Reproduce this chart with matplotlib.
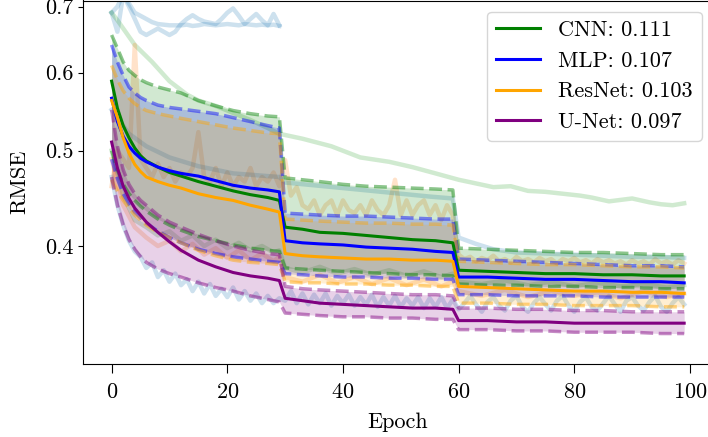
import matplotlib
matplotlib.use('Agg')
import matplotlib.pyplot as plt
from matplotlib.ticker import NullLocator

plt.rcParams['font.family'] = 'serif'
plt.rcParams['font.serif'] = ['cmr10']
plt.rcParams['mathtext.fontset'] = 'cm'
plt.rcParams['axes.formatter.use_mathtext'] = True
plt.rcParams['axes.unicode_minus'] = False
plt.rcParams['font.size'] = 16

grid = [0, 1, 2, 3, 4, 5, 6, 8, 10, 12, 15, 18, 21, 24, 27, 29,
        30, 33, 36, 40, 44, 48, 52, 56, 59,
        60, 65, 70, 75, 80, 85, 90, 95, 99]

models = ['CNN', 'MLP', 'ResNet', 'U-Net']
scores = ['0.111', '0.107', '0.103', '0.097']
colors = ['green', 'blue', 'orange', 'purple']

cnn_med = [0.588, 0.552, 0.530, 0.515, 0.503, 0.494, 0.488, 0.481, 0.475, 0.471, 0.465, 0.460, 0.455, 0.451, 0.448, 0.445,
           0.418, 0.416, 0.413, 0.412, 0.410, 0.408, 0.406, 0.405, 0.403,
           0.378, 0.377, 0.376, 0.375, 0.375, 0.374, 0.374, 0.373, 0.373]
cnn_hi = [0.655, 0.635, 0.615, 0.603, 0.596, 0.590, 0.586, 0.580, 0.576, 0.572, 0.562, 0.555, 0.549, 0.545, 0.542, 0.541,
          0.469, 0.467, 0.465, 0.462, 0.460, 0.459, 0.458, 0.457, 0.456,
          0.398, 0.397, 0.396, 0.395, 0.394, 0.394, 0.393, 0.392, 0.392]
cnn_lo = [0.500, 0.478, 0.462, 0.452, 0.445, 0.439, 0.434, 0.426, 0.420, 0.415, 0.409, 0.405, 0.401, 0.398, 0.396, 0.395,
          0.380, 0.379, 0.378, 0.377, 0.376, 0.375, 0.374, 0.374, 0.373,
          0.366, 0.365, 0.365, 0.364, 0.364, 0.363, 0.363, 0.362, 0.362]

mlp_med = [0.565, 0.535, 0.517, 0.505, 0.497, 0.491, 0.487, 0.481, 0.477, 0.474, 0.471, 0.466, 0.461, 0.458, 0.456, 0.454,
           0.405, 0.403, 0.402, 0.401, 0.399, 0.398, 0.397, 0.395, 0.394,
           0.372, 0.372, 0.371, 0.370, 0.370, 0.369, 0.368, 0.368, 0.367]
mlp_hi = [0.640, 0.615, 0.596, 0.580, 0.572, 0.566, 0.562, 0.556, 0.553, 0.551, 0.548, 0.545, 0.540, 0.535, 0.530, 0.527,
          0.432, 0.431, 0.430, 0.429, 0.429, 0.428, 0.427, 0.426, 0.426,
          0.388, 0.387, 0.386, 0.385, 0.384, 0.383, 0.382, 0.382, 0.381]
mlp_lo = [0.490, 0.468, 0.452, 0.441, 0.433, 0.427, 0.422, 0.414, 0.408, 0.403, 0.397, 0.393, 0.390, 0.388, 0.386, 0.385,
          0.375, 0.374, 0.373, 0.372, 0.372, 0.371, 0.371, 0.370, 0.370,
          0.357, 0.357, 0.356, 0.356, 0.356, 0.355, 0.355, 0.355, 0.355]

res_med = [0.562, 0.540, 0.515, 0.497, 0.484, 0.476, 0.470, 0.465, 0.461, 0.458, 0.452, 0.448, 0.445, 0.440, 0.436, 0.433,
           0.393, 0.391, 0.390, 0.389, 0.388, 0.388, 0.387, 0.387, 0.386,
           0.364, 0.363, 0.362, 0.361, 0.360, 0.360, 0.359, 0.359, 0.358]
res_hi = [0.610, 0.590, 0.575, 0.565, 0.558, 0.553, 0.549, 0.545, 0.542, 0.539, 0.535, 0.531, 0.527, 0.524, 0.521, 0.520,
          0.426, 0.425, 0.424, 0.423, 0.422, 0.422, 0.421, 0.421, 0.420,
          0.386, 0.385, 0.384, 0.383, 0.383, 0.382, 0.381, 0.381, 0.380]
res_lo = [0.467, 0.455, 0.445, 0.437, 0.430, 0.425, 0.420, 0.413, 0.408, 0.403, 0.396, 0.391, 0.387, 0.385, 0.384, 0.383,
          0.368, 0.367, 0.367, 0.366, 0.366, 0.365, 0.365, 0.364, 0.364,
          0.350, 0.350, 0.349, 0.349, 0.348, 0.348, 0.348, 0.347, 0.347]

unet_med = [0.510, 0.480, 0.460, 0.447, 0.437, 0.430, 0.423, 0.413, 0.404, 0.396, 0.387, 0.381, 0.376, 0.373, 0.371, 0.369,
            0.354, 0.352, 0.350, 0.349, 0.348, 0.347, 0.346, 0.346, 0.345,
            0.336, 0.336, 0.335, 0.335, 0.334, 0.334, 0.334, 0.334, 0.334]
unet_hi = [0.550, 0.505, 0.478, 0.462, 0.452, 0.445, 0.440, 0.430, 0.423, 0.418, 0.411, 0.405, 0.400, 0.396, 0.393, 0.392,
           0.364, 0.362, 0.361, 0.360, 0.359, 0.358, 0.357, 0.357, 0.356,
           0.346, 0.346, 0.345, 0.345, 0.344, 0.344, 0.343, 0.343, 0.343]
unet_lo = [0.470, 0.440, 0.420, 0.406, 0.397, 0.390, 0.385, 0.379, 0.375, 0.372, 0.367, 0.363, 0.360, 0.356, 0.353, 0.351,
           0.342, 0.341, 0.340, 0.339, 0.339, 0.338, 0.338, 0.337, 0.337,
           0.329, 0.329, 0.328, 0.328, 0.327, 0.327, 0.327, 0.326, 0.326]

# individual runs (faint lines)
ep30 = list(range(30))
ep100 = list(range(100))
run_a = [0.690, 0.700, 0.720, 0.705, 0.690, 0.685, 0.680, 0.675, 0.672, 0.671, 0.670, 0.670, 0.670, 0.671, 0.669,
         0.670, 0.672, 0.671, 0.670, 0.671, 0.672, 0.671, 0.670, 0.672, 0.671, 0.670, 0.671, 0.670, 0.671, 0.669]
run_b = [0.690, 0.660, 0.720, 0.700, 0.680, 0.660, 0.655, 0.660, 0.665, 0.660, 0.655, 0.660, 0.672, 0.680, 0.686,
         0.680, 0.676, 0.674, 0.672, 0.680, 0.690, 0.697, 0.685, 0.672, 0.680, 0.688, 0.678, 0.670, 0.688, 0.670]
run_c_ep = [0, 1, 4, 7, 10, 13, 15, 18, 21, 24, 27, 29, 33, 38, 43, 48, 52, 56, 60, 63, 66, 69, 72, 75, 78, 81, 83, 86, 90, 93, 95, 97, 99]
run_c = [0.690, 0.678, 0.640, 0.615, 0.588, 0.570, 0.562, 0.555, 0.546, 0.537, 0.527, 0.520, 0.514, 0.505, 0.492, 0.487,
         0.481, 0.474, 0.467, 0.463, 0.459, 0.460, 0.455, 0.454, 0.452, 0.450, 0.448, 0.444, 0.447, 0.443, 0.441, 0.440, 0.442]
run_d = [0.460, 0.500, 0.490, 0.480, 0.640, 0.490, 0.480, 0.470, 0.485, 0.470, 0.480, 0.465, 0.475, 0.470, 0.480,
         0.522, 0.470, 0.465, 0.480, 0.460, 0.475, 0.460, 0.470, 0.465, 0.480, 0.460, 0.470, 0.465, 0.475, 0.460,
         0.489, 0.450, 0.459, 0.440, 0.436, 0.445, 0.430, 0.440, 0.445, 0.430, 0.445, 0.435, 0.432, 0.440, 0.430,
         0.445, 0.435, 0.430, 0.440, 0.467, 0.430, 0.445, 0.430, 0.440, 0.445, 0.430, 0.440, 0.425, 0.440, 0.430,
         0.392, 0.388, 0.390, 0.386, 0.389, 0.387, 0.391, 0.386, 0.388, 0.385, 0.390, 0.386, 0.388, 0.385, 0.389,
         0.386, 0.388, 0.384, 0.388, 0.386, 0.389, 0.385, 0.387, 0.384, 0.388, 0.385, 0.387, 0.384, 0.386, 0.383,
         0.387, 0.384, 0.386, 0.383, 0.388, 0.384, 0.386, 0.383, 0.387, 0.384]
run_e_ep = [0, 3, 6, 10, 15, 21, 29, 30, 35, 40, 45, 50, 55, 59, 60, 63, 66, 70, 75, 80, 85, 90, 95, 99]
run_e = [0.550, 0.520, 0.505, 0.492, 0.482, 0.474, 0.470, 0.464, 0.461, 0.458, 0.455, 0.452, 0.449, 0.447,
         0.408, 0.402, 0.397, 0.394, 0.393, 0.392, 0.391, 0.390, 0.390, 0.389]
run_f = [0.470, 0.440, 0.420, 0.405, 0.395, 0.390, 0.380, 0.385, 0.372, 0.378, 0.368, 0.375, 0.365, 0.370, 0.360,
         0.368, 0.358, 0.366, 0.356, 0.362, 0.355, 0.363, 0.353, 0.360, 0.352, 0.358, 0.350, 0.356, 0.350, 0.354,
         0.352, 0.360, 0.350, 0.358, 0.349, 0.357, 0.350, 0.358, 0.348, 0.356, 0.350, 0.357, 0.348, 0.355, 0.349,
         0.357, 0.347, 0.355, 0.348, 0.356, 0.347, 0.354, 0.348, 0.355, 0.346, 0.354, 0.347, 0.355, 0.346, 0.353,
         0.345, 0.350, 0.356, 0.349, 0.343, 0.351, 0.355, 0.348, 0.344, 0.352, 0.356, 0.347, 0.343, 0.350, 0.355,
         0.349, 0.344, 0.352, 0.356, 0.348, 0.343, 0.351, 0.355, 0.347, 0.344, 0.350, 0.356, 0.349, 0.343, 0.352,
         0.355, 0.348, 0.344, 0.351, 0.356, 0.347, 0.343, 0.350, 0.355, 0.349]
run_g_ep = [0, 2, 4, 6, 8, 10, 12, 14, 16, 18, 20, 22, 24, 26, 28, 29, 30, 33, 36, 39, 42, 45, 48, 51, 54, 57, 59,
            60, 64, 68, 72, 76, 80, 84, 88, 92, 96, 99]
run_g = [0.490, 0.440, 0.418, 0.408, 0.400, 0.405, 0.395, 0.402, 0.392, 0.398, 0.389, 0.396, 0.387, 0.393, 0.386, 0.390,
         0.372, 0.368, 0.374, 0.367, 0.372, 0.366, 0.371, 0.365, 0.370, 0.364, 0.368,
         0.360, 0.356, 0.361, 0.355, 0.360, 0.356, 0.359, 0.354, 0.360, 0.355, 0.358]
run_h_ep = [0, 2, 4, 6, 8, 10, 12, 14, 16, 18, 20, 22, 24, 26, 28, 29, 30, 33, 36, 39, 42, 45, 48, 51, 54, 57, 59,
            60, 64, 68, 72, 76, 80, 84, 88, 92, 96, 99]
run_h = [0.500, 0.450, 0.425, 0.418, 0.410, 0.414, 0.405, 0.410, 0.400, 0.406, 0.398, 0.403, 0.396, 0.400, 0.394, 0.396,
         0.380, 0.376, 0.381, 0.375, 0.379, 0.374, 0.378, 0.373, 0.377, 0.372, 0.375,
         0.368, 0.366, 0.369, 0.365, 0.368, 0.364, 0.367, 0.364, 0.366, 0.363, 0.365]

runs = [(ep30, run_a, 'tab:blue'), (ep30, run_b, 'tab:blue'), (run_c_ep, run_c, 'tab:green'),
        (ep100, run_d, 'tab:orange'), (run_e_ep, run_e, 'tab:blue'), (ep100, run_f, 'tab:blue'),
        (run_g_ep, run_g, 'tab:orange'), (run_h_ep, run_h, 'tab:green')]

meds = [cnn_med, mlp_med, res_med, unet_med]
his = [cnn_hi, mlp_hi, res_hi, unet_hi]
los = [cnn_lo, mlp_lo, res_lo, unet_lo]

fig = plt.figure(figsize=(7.08, 4.37), dpi=100)
ax = fig.add_axes([83/708, 73/437, 629.8/708, 363.5/437])

for x, y, c in runs:
    ax.plot(x, y, color=c, alpha=0.22, lw=3.2, zorder=1)

for m, s, c, med, hi, lo in zip(models, scores, colors, meds, his, los):
    ax.fill_between(grid, lo, hi, color=c, alpha=0.18, lw=0, zorder=2)
    ax.plot(grid, hi, '--', color=c, alpha=0.45, lw=2.5, zorder=3)
    ax.plot(grid, lo, '--', color=c, alpha=0.45, lw=2.5, zorder=3)

for m, s, c, med in zip(models, scores, colors, meds):
    ax.plot(grid, med, color=c, lw=2.2, zorder=4, label=f'{m}: {s}')

ax.set_yscale('log')
ax.set_ylim(0.3036, 0.710)
ax.set_xlim(-4.95, 103.95)
ax.yaxis.set_minor_locator(NullLocator())
ax.set_yticks([0.4, 0.5, 0.6, 0.7])
ax.set_yticklabels(['0.4', '0.5', '0.6', '0.7'])
ax.set_xticks([0, 20, 40, 60, 80, 100])
ax.tick_params(axis='x', length=6.5, pad=7)
ax.set_xlabel('Epoch', labelpad=7)
ax.set_ylabel('RMSE', labelpad=11)
ax.legend(loc='upper right', fontsize=16)

fig.savefig('out.png', dpi=100)
